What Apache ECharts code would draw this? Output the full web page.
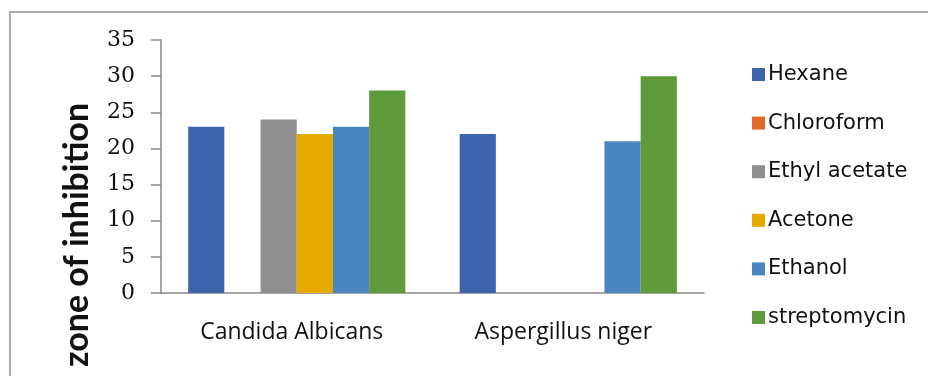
<!DOCTYPE html>
<html>
<head>
<meta charset="utf-8">
<script src="https://cdn.jsdelivr.net/npm/echarts@6/dist/echarts.min.js"></script>
<style>
  html, body { margin: 0; padding: 0; background: #fff; }
  #main { width: 928px; height: 376px; }
</style>
</head>
<body>
<div id="main"></div>
<script>
// organisms on the x axis
let categories = ["Candida Albicans", "Aspergillus niger"];
// one array per solvent, zone of inhibition (mm)
let hexane = [23, 22];
let chloroform = [0, 0];
let ethylAcetate = [24, 0];
let acetone = [22, 0];
let ethanol = [23, 21];
let streptomycin = [28, 30];
let yTicks = [0, 5, 10, 15, 20, 25, 30, 35];

let seriesNames = ["Hexane", "Chloroform", "Ethyl acetate", "Acetone", "Ethanol", "streptomycin"];
let seriesData = [hexane, chloroform, ethylAcetate, acetone, ethanol, streptomycin];
let colors = ["#3d64ad", "#e0692a", "#8f8f8f", "#e5a900", "#4a86c0", "#5f9a3b"];

let dom = document.getElementById("main");
let myChart = echarts.init(dom, null, { renderer: "canvas" });

let option = {
    animation: false,
    color: colors,
    graphic: [
        {
            // outer frame of the chart area (only top/left visible)
            type: "rect",
            z: -1,
            shape: { x: 10, y: 12, width: 1000, height: 1000 },
            style: { fill: "none", stroke: "#aaaaaa", lineWidth: 2 },
        },
        {
            type: "text",
            x: 77,
            y: 235,
            rotation: Math.PI / 2,
            style: {
                text: "zone of inhibition",
                font: "bold 34px Lato",
                fill: "#111",
                textAlign: "center",
                textVerticalAlign: "middle",
            },
        },
    ],
    legend: {
        orient: "vertical",
        left: 747,
        top: 59,
        icon: "rect",
        itemWidth: 13,
        itemHeight: 13,
        itemGap: 27.6,
        data: seriesNames,
        textStyle: {
            fontFamily: "DejaVu Sans",
            fontSize: 21,
            lineHeight: 20,
            color: "#111",
            padding: [0, 0, 0, -2],
        },
    },
    grid: { left: 161, right: 224, top: 40, bottom: 83 },
    xAxis: {
        type: "category",
        data: categories,
        axisLine: { lineStyle: { color: "#888", width: 1.5 } },
        axisTick: { length: 9, lineStyle: { color: "#888", width: 1.5 } },
        axisLabel: {
            margin: 28,
            padding: [0, 10, 0, 0],
            fontFamily: "Open Sans",
            fontSize: 23,
            color: "#111",
        },
    },
    yAxis: {
        type: "value",
        min: yTicks[0],
        max: yTicks[yTicks.length - 1],
        interval: 5,
        splitLine: { show: false },
        axisLine: { show: true, lineStyle: { color: "#888", width: 1.5 } },
        axisTick: { show: true, length: 10, lineStyle: { color: "#888", width: 1.5 } },
        axisLabel: {
            margin: 26,
            fontFamily: "DejaVu Serif",
            fontSize: 22,
            color: "#111",
        },
    },
    series: seriesNames.map(function (name, i) {
        return {
            name: name,
            type: "bar",
            data: seriesData[i],
            barGap: "0%",
            barCategoryGap: "20%",
        };
    }),
};

myChart.setOption(option);
window.addEventListener("resize", myChart.resize);
</script>
</body>
</html>
